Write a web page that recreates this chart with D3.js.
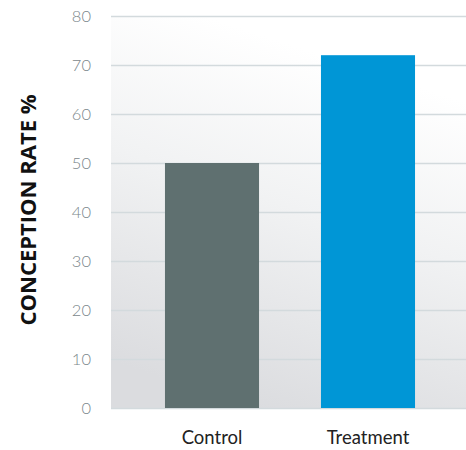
<!DOCTYPE html>
<html>
<head>
<meta charset="utf-8">
<script src="https://cdn.jsdelivr.net/npm/d3@7"></script>
<style>
  html, body { margin: 0; padding: 0; background: #ffffff; }
  svg { display: block; }
</style>
</head>
<body>
<svg id="chart" width="466" height="450"></svg>
<script>
// Conception rate by group
const groups = ["Control", "Treatment"];
const rates = [50, 72];
const barColors = ["#5f7070", "#0096d6"];
const yTicks = [0, 10, 20, 30, 40, 50, 60, 70, 80];
const yTitle = "CONCEPTION RATE %";

const W = 466, H = 450;
const plot = { left: 111, right: 466, top: 16, bottom: 408 };

const svg = d3.select("#chart");

const x = d3.scaleBand()
  .domain(groups)
  .range([plot.left, plot.left + 358])
  .paddingInner(0.397)
  .paddingOuter(0.346);

const y = d3.scaleLinear()
  .domain([0, 80])
  .range([plot.bottom, plot.top]);

// Soft grey-to-white backdrop behind the plot
const defs = svg.append("defs");
const grad = defs.append("linearGradient")
  .attr("id", "bg")
  .attr("x1", "0.7").attr("y1", "0")
  .attr("x2", "0.4").attr("y2", "1");
grad.append("stop").attr("offset", "0.12").attr("stop-color", "#ffffff");
grad.append("stop").attr("offset", "0.5").attr("stop-color", "#f1f2f3");
grad.append("stop").attr("offset", "1").attr("stop-color", "#dbdcdf");

svg.append("rect")
  .attr("x", plot.left)
  .attr("y", plot.top)
  .attr("width", plot.right - plot.left)
  .attr("height", plot.bottom - plot.top)
  .attr("fill", "url(#bg)");

// Horizontal gridlines with tick labels
const yAxis = d3.axisLeft(y)
  .tickValues(yTicks)
  .tickSize(-(plot.right - plot.left))
  .tickPadding(20);

const gy = svg.append("g")
  .attr("transform", `translate(${plot.left},0)`)
  .call(yAxis);
gy.select(".domain").remove();
gy.selectAll(".tick line")
  .attr("stroke", "#d3dadd")
  .attr("stroke-width", 1.5);
gy.selectAll(".tick text")
  .attr("fill", "#7b878b")
  .style("font-family", "Lato, 'Open Sans', sans-serif")
  .style("font-weight", "300")
  .style("font-size", "16.5px");

// Bars
svg.append("g")
  .selectAll("rect")
  .data(groups)
  .join("rect")
  .attr("x", d => x(d))
  .attr("width", x.bandwidth())
  .attr("y", (d, i) => y(rates[i]))
  .attr("height", (d, i) => y(0) - y(rates[i]))
  .attr("fill", (d, i) => barColors[i]);

// Category labels
const xAxis = d3.axisBottom(x).tickSize(0).tickPadding(23);
const gx = svg.append("g")
  .attr("transform", `translate(0,${plot.bottom})`)
  .call(xAxis);
gx.select(".domain").remove();
gx.selectAll(".tick text")
  .attr("fill", "#222222")
  .style("font-family", "Lato, 'Open Sans', sans-serif")
  .style("font-weight", "400")
  .style("font-size", "18.5px");

// Y axis title
svg.append("text")
  .attr("transform", `translate(36,${(90 + 330) / 2}) rotate(-90)`)
  .attr("text-anchor", "middle")
  .attr("fill", "#111111")
  .style("font-family", "'Open Sans', Lato, sans-serif")
  .style("font-weight", "700")
  .style("font-size", "22px")
  .text(yTitle);
</script>
</body>
</html>
